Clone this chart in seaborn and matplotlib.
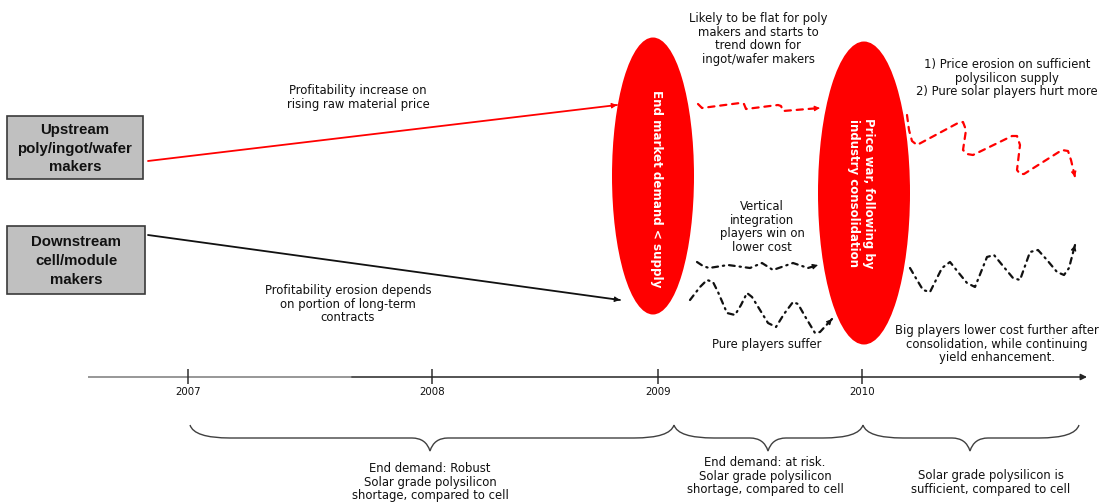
import matplotlib
matplotlib.use("Agg")
import numpy as np
import matplotlib.pyplot as plt
from matplotlib.patches import Ellipse, Rectangle, PathPatch
from matplotlib.path import Path
import seaborn as sns

sns.set_theme(style="white")
plt.rcParams["font.family"] = ["DejaVu Sans"]

# ---- content -------------------------------------------------------------
years = ["2007", "2008", "2009", "2010"]
year_x = [188, 432, 658, 862]

segment_labels = ["Upstream\npoly/ingot/wafer\nmakers", "Downstream\ncell/module\nmakers"]

phase_notes = [
    "End demand: Robust\nSolar grade polysilicon\nshortage, compared to cell",
    "End demand: at risk.\nSolar grade polysilicon\nshortage, compared to cell",
    "Solar grade polysilicon is\nsufficient, compared to cell",
]
phase_start = [190, 674, 863]
phase_end = [674, 863, 1079]
phase_mid = [430, 768, 970]

event_labels = ["End market demand < supply",
                "Price war, following by\nindustry consolidation"]

# trend paths (x, y)
up_trend_x = [148, 617]
up_trend_y = [161, 105]
down_trend_x = [148, 620]
down_trend_y = [235, 300]

poly_flat_x = [698, 702, 740, 744, 746, 778, 781, 783, 820]
poly_flat_y = [104, 108, 103, 104, 109, 105, 106, 111, 108]

poly_down_x = [907, 909, 912, 917, 958, 963, 966, 963, 967, 973, 1012, 1017, 1020, 1017, 1020, 1024, 1062, 1068, 1071, 1075]
poly_down_y = [115, 130, 141, 145, 123, 122, 130, 150, 154, 155, 136, 136, 145, 170, 174, 174, 150, 151, 160, 177]

vert_x = [697, 703, 709, 728, 750, 762, 773, 793, 808, 818]
vert_y = [262, 266, 268, 265, 268, 263, 270, 263, 268, 265]

pure_x = [690, 700, 707, 713, 718, 727, 735, 741, 747, 752, 760, 768, 776, 784, 793, 798, 806, 815, 820, 832]
pure_y = [300, 287, 280, 282, 292, 313, 315, 305, 293, 297, 310, 323, 327, 314, 302, 304, 318, 333, 332, 319]

big_x = [910, 917, 923, 930, 936, 942, 950, 958, 967, 975, 981, 987, 994, 1003, 1013, 1020, 1025, 1030, 1038, 1047, 1057, 1064, 1069, 1075]
big_y = [268, 280, 290, 292, 280, 268, 262, 272, 283, 287, 272, 257, 255, 266, 278, 280, 266, 252, 250, 260, 272, 275, 268, 245]

# ---- canvas -------------------------------------------------------------
W, H = 1101, 504
fig = plt.figure(figsize=(W / 100, H / 100), dpi=100)
ax = fig.add_axes([0, 0, 1, 1])
ax.set_xlim(0, W)
ax.set_ylim(H, 0)
ax.axis("off")

RED = "#ff0000"
INK = "#111111"
small = dict(fontsize=8.4, color=INK, ha="center", va="top", linespacing=1.07)


def arrow_head(x, y, color, scale=8, back=7):
    """Filled arrowhead at the end of a path, pointing along its last segment."""
    dx, dy = x[-1] - x[-2], y[-1] - y[-2]
    n = np.hypot(dx, dy)
    ax.annotate("", xy=(x[-1], y[-1]),
                xytext=(x[-1] - back * dx / n, y[-1] - back * dy / n),
                arrowprops=dict(arrowstyle="-|>", color=color, lw=0.8,
                                mutation_scale=scale, shrinkA=0, shrinkB=0),
                zorder=5)


def trend(x, y, color, dashes, lw=1.6):
    sns.lineplot(x=x, y=y, sort=False, estimator=None, color=color, lw=lw, ax=ax)
    line = ax.lines[-1]
    line.set_dashes(dashes)
    line.set_dash_capstyle("round")
    arrow_head(x, y, color)


# segment boxes
for (y0, y1, x1), lab in zip([(116, 179, 143), (226, 294, 145)], segment_labels):
    ax.add_patch(Rectangle((7, y0), x1 - 7, y1 - y0, facecolor="#c0c0c0",
                           edgecolor="#3a3a3a", lw=1.2, zorder=3))
    ax.text((7 + x1) / 2, (y0 + y1) / 2 + 1, lab, fontsize=10.8, fontweight="bold",
            family="Liberation Sans", ha="center", va="center",
            linespacing=1.42, color=INK, zorder=4)

# straight trend arrows
sns.lineplot(x=up_trend_x, y=up_trend_y, sort=False, estimator=None, color=RED, lw=1.3, ax=ax)
arrow_head(up_trend_x, up_trend_y, RED)
sns.lineplot(x=down_trend_x, y=down_trend_y, sort=False, estimator=None, color=INK, lw=1.3, ax=ax)
arrow_head(down_trend_x, down_trend_y, INK)

ax.text(358, 84, "Profitability increase on\nrising raw material price", **small)
ax.text(348, 284, "Profitability erosion depends\non portion of long-term\ncontracts", **small)

# event ellipses
ax.add_patch(Ellipse((653, 176), 82, 277, facecolor=RED, edgecolor="none", zorder=4))
ax.add_patch(Ellipse((864, 193), 92, 303, facecolor=RED, edgecolor="none", zorder=4))
ax.text(656, 189, event_labels[0], rotation=-90, color="white", fontsize=8.6,
        fontweight="bold", ha="center", va="center", zorder=6)
ax.text(861, 193, event_labels[1], rotation=-90, color="white", fontsize=8.5,
        fontweight="bold", ha="center", va="center", linespacing=1.25, zorder=6)

# after-event paths
trend(poly_flat_x, poly_flat_y, RED, (2.8, 2.6))
trend(poly_down_x, poly_down_y, RED, (2.8, 2.6))
trend(vert_x, vert_y, INK, (2.6, 2.2, 0.6, 2.2))
trend(pure_x, pure_y, INK, (2.6, 2.2, 0.6, 2.2))
trend(big_x, big_y, INK, (2.6, 2.2, 0.6, 2.2))

ax.text(758, 12, "Likely to be flat for poly\nmakers and starts to\ntrend down for\ningot/wafer makers", **small)
ax.text(762, 200, "Vertical\nintegration\nplayers win on\nlower cost", **small)
ax.text(1007, 58, "1) Price erosion on sufficient\npolysilicon supply\n2) Pure solar players hurt more", **small)
ax.text(767, 338, "Pure players suffer", **small)
ax.text(997, 324, "Big players lower cost further after\nconsolidation, while continuing\nyield enhancement.", **small)

# timeline
ax.plot([88, 352], [377, 377], color="#7a7a7a", lw=1.1, solid_capstyle="butt")
ax.annotate("", xy=(1087, 377), xytext=(352, 377),
            arrowprops=dict(arrowstyle="-|>", color="#252525", lw=1.1,
                            mutation_scale=9, shrinkA=0, shrinkB=0))
ax.vlines(year_x, 369, 384, color="#303030", lw=1.1)
for x, lab in zip(year_x, years):
    ax.text(x, 387, lab, fontsize=7.4, ha="center", va="top", color=INK)


# braces under the timeline
def brace(x0, x1, xm, ytop=425, yh=438, ytip=451):
    verts = [(x0, ytop), (x0 + 4, yh), (x0 + 40, yh),
             (xm - 18, yh),
             (xm - 4, yh), (xm, ytip),
             (xm + 4, yh), (xm + 18, yh),
             (x1 - 40, yh),
             (x1 - 4, yh), (x1, ytop)]
    codes = [Path.MOVETO, Path.CURVE3, Path.CURVE3,
             Path.LINETO,
             Path.CURVE3, Path.CURVE3,
             Path.CURVE3, Path.CURVE3,
             Path.LINETO,
             Path.CURVE3, Path.CURVE3]
    ax.add_patch(PathPatch(Path(verts, codes), facecolor="none",
                           edgecolor="#404040", lw=1.0))


for x0, x1, xm in zip(phase_start, phase_end, phase_mid):
    brace(x0, x1, xm)

ax.text(phase_mid[0], 462, phase_notes[0], **small)
ax.text(phase_mid[1] - 3, 456, phase_notes[1], **small)
ax.text(phase_mid[2] + 21, 469, phase_notes[2], **small)

fig.savefig("out.png", dpi=100, facecolor="white")
